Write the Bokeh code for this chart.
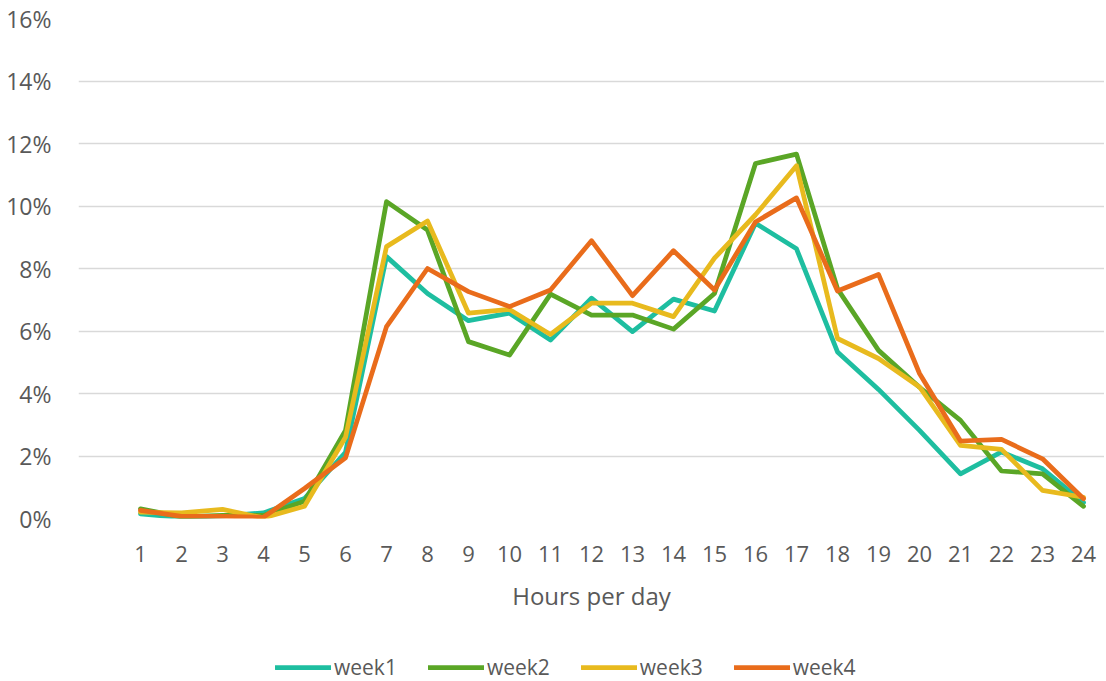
from bokeh.plotting import figure
from bokeh.layouts import column
from bokeh.models import (ColumnDataSource, FixedTicker, PrintfTickFormatter,
                          Legend, LegendItem, Range1d)
from bokeh.embed import file_html
from bokeh.resources import INLINE

hours = list(range(1, 25))
week1 = [0.15, 0.03, 0.08, 0.18, 0.64, 2.12, 8.38, 7.20, 6.33, 6.57, 5.71, 7.05,
         5.98, 7.02, 6.64, 9.45, 8.63, 5.33, 4.13, 2.82, 1.43, 2.13, 1.59, 0.51]
week2 = [0.31, 0.05, 0.10, 0.10, 0.55, 2.82, 10.14, 9.23, 5.66, 5.23, 7.18, 6.51,
         6.51, 6.06, 7.20, 11.36, 11.66, 7.35, 5.38, 4.20, 3.14, 1.52, 1.43, 0.39]
week3 = [0.20, 0.18, 0.29, 0.02, 0.39, 2.60, 8.70, 9.52, 6.57, 6.69, 5.89, 6.89,
         6.89, 6.46, 8.33, 9.72, 11.29, 5.76, 5.12, 4.21, 2.34, 2.21, 0.90, 0.68]
week4 = [0.26, 0.07, 0.07, 0.04, 0.96, 1.94, 6.14, 8.00, 7.26, 6.78, 7.31, 8.89,
         7.13, 8.57, 7.31, 9.49, 10.26, 7.28, 7.81, 4.64, 2.48, 2.53, 1.91, 0.63]
series_names = ["week1", "week2", "week3", "week4"]
colors = ["#1EBEA0", "#5AA626", "#E8BA1E", "#E96C1B"]
y_ticks = list(range(0, 17, 2))
x_title = "Hours per day"

FONT = "Open Sans"
TXT = "#595959"
W = 1104
LW = 4.75

p = figure(width=W, height=637, output_backend="svg", toolbar_location=None,
           x_range=Range1d(-0.512, 24.512), y_range=Range1d(0, 16),
           min_border_left=78, min_border_right=0, min_border_top=18,
           min_border_bottom=119)
p.outline_line_color = None
p.background_fill_color = "white"
p.border_fill_color = "white"

src = ColumnDataSource(dict(x=hours, week1=week1, week2=week2, week3=week3, week4=week4))
for name, col in zip(series_names, colors):
    p.line("x", name, source=src, line_color=col, line_width=LW,
           line_join="round", line_cap="round")

# axes
p.xaxis.ticker = FixedTicker(ticks=hours)
p.yaxis.ticker = FixedTicker(ticks=y_ticks)
p.yaxis.formatter = PrintfTickFormatter(format="%d%%")
for ax in (p.xaxis[0], p.yaxis[0]):
    ax.axis_line_color = None
    ax.major_tick_line_color = None
    ax.minor_tick_line_color = None
    ax.major_label_text_font = FONT
    ax.major_label_text_font_size = "22px"
    ax.major_label_text_color = TXT
p.yaxis.major_label_text_font_size = "23px"
p.yaxis.major_label_standoff = 21
p.xaxis.major_label_standoff = 21
p.xaxis.axis_label = x_title
p.xaxis.axis_label_text_font = FONT
p.xaxis.axis_label_text_font_size = "24px"
p.xaxis.axis_label_text_font_style = "normal"
p.xaxis.axis_label_text_color = TXT
p.xaxis.axis_label_standoff = 14

p.xgrid.visible = False
p.ygrid.ticker = FixedTicker(ticks=y_ticks)
p.ygrid.grid_line_color = "#D9D9D9"
p.ygrid.grid_line_width = 1.5

# legend strip below the chart (its lines use the same data, kept out of view)
lg = figure(width=W, height=44, output_backend="svg", toolbar_location=None,
            x_range=Range1d(0, 1), y_range=Range1d(-100, -99),
            x_axis_type=None, y_axis_type=None,
            min_border_left=0, min_border_right=0, min_border_top=0, min_border_bottom=0)
lg.outline_line_color = None
lg.xgrid.visible = False
lg.ygrid.visible = False
items = []
for name, col in zip(series_names, colors):
    r = lg.line("x", name, source=src, line_color=col, line_width=LW, line_cap="round")
    items.append(LegendItem(label=name, renderers=[r]))
legend = Legend(items=items, orientation="horizontal", location=(197, 0),
                label_text_font=FONT, label_text_font_size="21px", label_text_color=TXT,
                glyph_width=56, glyph_height=20, label_standoff=3, spacing=31,
                border_line_color=None, background_fill_alpha=0,
                padding=0, margin=0)
lg.add_layout(legend)

layout = column(p, lg, spacing=0)
open("out.html", "w").write(file_html(layout, INLINE))
